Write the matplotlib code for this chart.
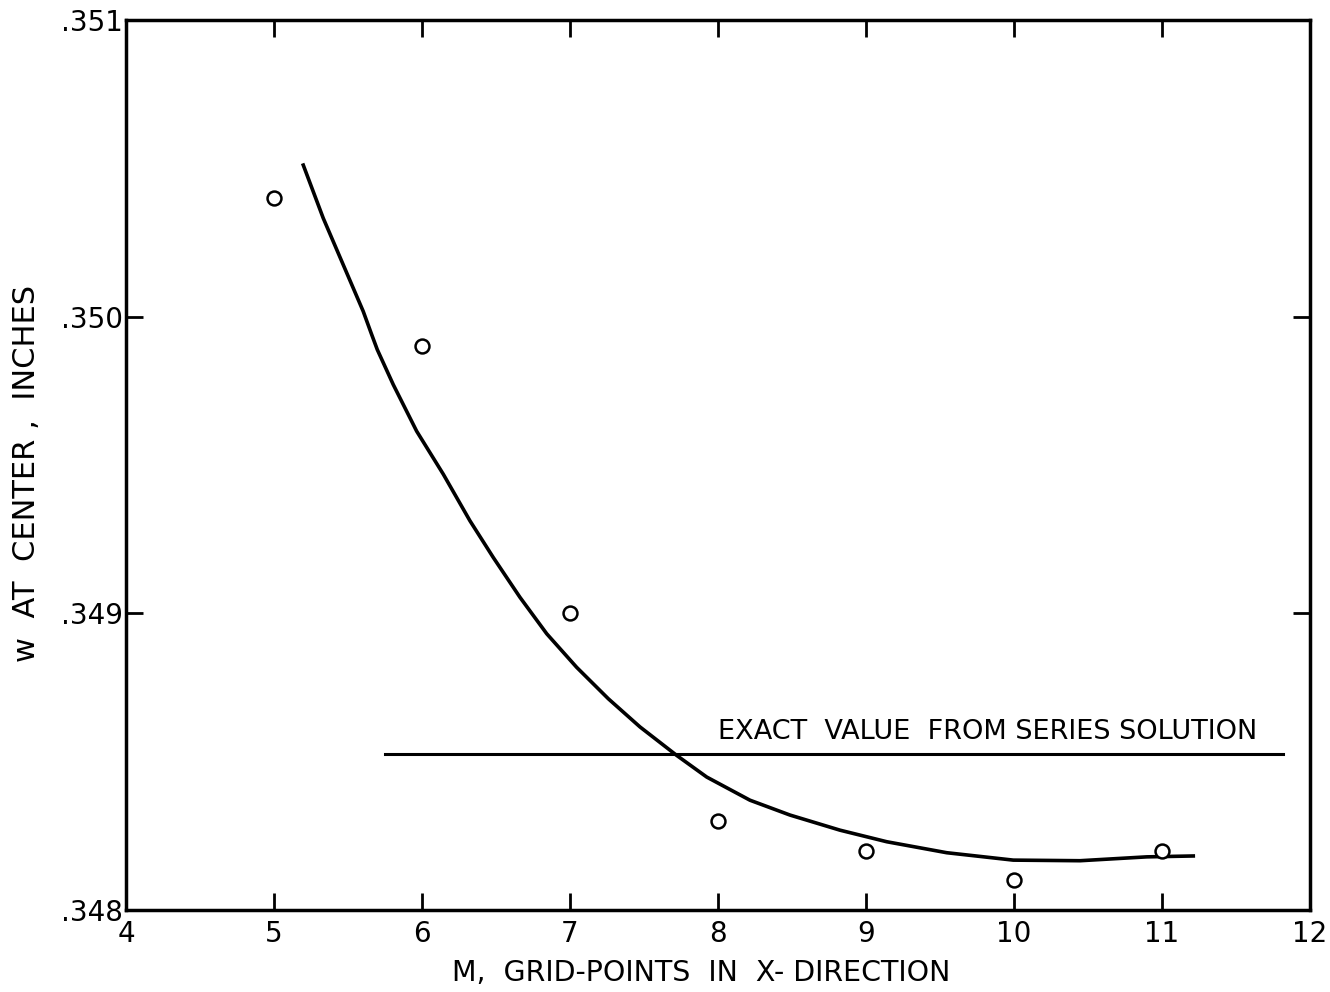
import matplotlib.pyplot as plt

# data
m_points = [5, 6, 7, 8, 9, 10, 11]
w_points = [0.35040, 0.34990, 0.34900, 0.34830, 0.34820, 0.34810, 0.34820]

# faired curve through the points
curve_m = [5.198, 5.333, 5.468, 5.603, 5.660, 5.698, 5.806, 5.964, 6.144, 6.324,
           6.482, 6.662, 6.843, 7.045, 7.259, 7.473, 7.721, 7.924, 8.216, 8.486,
           8.824, 9.140, 9.545, 9.995, 10.446, 10.897, 11.211]
curve_w = [0.350511, 0.350332, 0.350175, 0.350018, 0.349940, 0.349889, 0.349771,
           0.349614, 0.349469, 0.349312, 0.349188, 0.349054, 0.348931, 0.348818,
           0.348712, 0.348617, 0.348521, 0.348448, 0.348370, 0.348320, 0.348269,
           0.348230, 0.348193, 0.348168, 0.348166, 0.348179, 0.348182]

exact_w = 0.348525
exact_m = [5.75, 11.82]

x_ticks = [4, 5, 6, 7, 8, 9, 10, 11, 12]
y_ticks = [0.348, 0.349, 0.350, 0.351]
y_labels = ['.348', '.349', '.350', '.351']

plt.rcParams['font.family'] = ['DejaVu Sans']

fig = plt.figure(figsize=(13.3, 9.92), dpi=100)
ax = fig.add_axes([0.0947, 0.0827, 0.8903, 0.8971])

ax.plot(curve_m, curve_w, color='black', lw=2.6, solid_joinstyle='round')
ax.plot(m_points, w_points, 'o', mfc='white', mec='black', ms=10, mew=1.8)
ax.plot(exact_m, [exact_w, exact_w], color='black', lw=2.2)
ax.text(8.0, exact_w + 0.00003, 'EXACT  VALUE  FROM SERIES SOLUTION',
        fontsize=19.5, ha='left', va='bottom')

ax.set_xlim(4, 12)
ax.set_ylim(0.348, 0.351)
ax.set_xticks(x_ticks)
ax.set_xticklabels([str(v) for v in x_ticks])
ax.set_yticks(y_ticks)
ax.set_yticklabels(y_labels)
ax.tick_params(direction='in', top=True, right=True, length=12, width=2,
               labelsize=20)
ax.tick_params(axis='x', pad=7)
ax.tick_params(axis='y', pad=2)
for s in ax.spines.values():
    s.set_linewidth(2.5)

ax.set_xlabel('M,  GRID-POINTS  IN  X- DIRECTION', fontsize=20.5)
ax.xaxis.set_label_coords(0.486, -0.055)
ax.set_ylabel('w  AT  CENTER ,  INCHES', fontsize=22)
ax.yaxis.set_label_coords(-0.072, 0.49)

fig.savefig('out.png', dpi=100, facecolor='white')
